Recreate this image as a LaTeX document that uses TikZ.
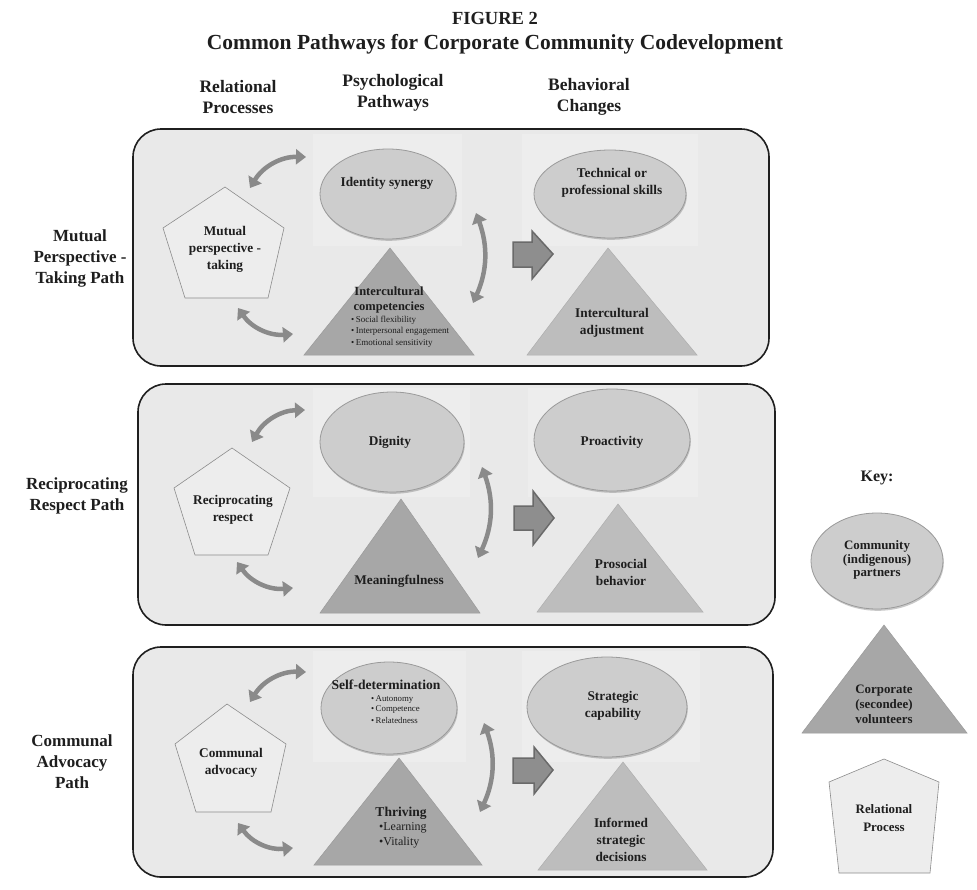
\documentclass[tikz,border=0pt]{standalone}
\usepackage{fontspec}
\setmainfont{Liberation Serif}
\usetikzlibrary{arrows.meta,shadows}
\definecolor{panelfill}{HTML}{E9E9E9}
\definecolor{softfill}{HTML}{EDEDED}
\definecolor{pentfill}{HTML}{EDEDED}
\definecolor{pentline}{HTML}{8C8C8C}
\definecolor{ellfill}{HTML}{CDCDCD}
\definecolor{ellline}{HTML}{9A9A9A}
\definecolor{psyfill}{HTML}{A7A7A7}
\definecolor{behfill}{HTML}{BDBDBD}
\definecolor{arrgray}{HTML}{8A8A8A}
\definecolor{blockfill}{HTML}{8E8E8E}
\definecolor{blockline}{HTML}{6A6A6A}
\definecolor{txt}{HTML}{1E1E1E}
\tikzset{
  panel/.style={draw=black!88, line width=1.6pt, fill=panelfill, rounded corners=28pt},
  soft/.style={fill=softfill},
  pent/.style={draw=pentline, line width=0.6pt, fill=pentfill},
  ell/.style={draw=ellline, line width=0.8pt, fill=ellfill,
    drop shadow={shadow xshift=0.8pt, shadow yshift=-1.8pt, opacity=0.3, fill=black!70}},
  psytri/.style={fill=psyfill, draw=psyfill!92!black, line width=0.5pt},
  behtri/.style={fill=behfill, draw=behfill!92!black, line width=0.5pt},
  dbl/.style={draw=arrgray, line width=4.5pt,
    {Triangle[length=10pt,width=15pt]}-{Triangle[length=10pt,width=15pt]}},
  block/.style={fill=blockfill, draw=blockline, line width=1.5pt, line join=miter},
  lbl/.style={font=\bfseries\fontsize{13.3}{17}\selectfont, align=center, text=txt, inner sep=0pt},
  bul/.style={font=\fontsize{9}{11}\selectfont, anchor=west, text=txt, inner sep=0pt},
  bulB/.style={font=\fontsize{8.8}{10}\selectfont, anchor=west, text=txt, inner sep=0pt},
  bulC/.style={font=\fontsize{12}{15}\selectfont, anchor=west, text=txt, inner sep=0pt},
  side/.style={font=\bfseries\fontsize{17}{21}\selectfont, align=center, text=txt, inner sep=0pt},
  head/.style={font=\bfseries\fontsize{17.5}{21}\selectfont, align=center, text=txt, inner sep=0pt},
  ttl/.style={font=\bfseries\fontsize{21.5}{24}\selectfont, align=center, text=txt, inner sep=0pt},
}
\begin{document}
\begin{tikzpicture}[x=1pt,y=-1pt]
\useasboundingbox (0,0) rectangle (977,889);
\fill[white] (0,0) rectangle (977,889);

% titles
\node[ttl, font=\bfseries\fontsize{18.5}{22}\selectfont] (fig) at (495,18) {FIGURE 2};
\node[ttl] (sub) at (495,44) {Common Pathways for Corporate Community Codevelopment};
\node[head] (h1) at (238,97) {Relational\\Processes};
\node[head] (h2) at (393,93) {Psychological\\Pathways};
\node[head] (h3) at (589,97) {Behavioral\\Changes};

% side labels
\node[side] (s1) at (80,258) {Mutual\\Perspective -\\Taking Path};
\node[side] (s2) at (77,496) {Reciprocating\\Respect Path};
\node[side] (s3) at (72,762) {Communal\\Advocacy\\Path};

% ================= Panel 1 =================
\draw[panel] (133,129) rectangle (769,366);
\fill[soft] (313,134) rectangle (462,246);
\fill[soft] (522,134) rectangle (698,246);
\draw[pent] (225,187) -- (284,228) -- (268,298) -- (185,298) -- (163,228) -- cycle;
\node[lbl] (p1) at (225,249) {Mutual\\perspective -\\taking};
\path[ell] (388,194) ellipse [x radius=68, y radius=45];
\node[lbl] (e1a) at (387,183) {Identity synergy};
\draw[psytri] (390,248) -- (474,355) -- (304,355) -- cycle;
\node[lbl, font=\bfseries\fontsize{12.5}{15}\selectfont] (t1a) at (389,300) {Intercultural\\competencies};
\node[bul] (b1a) at (351,320) {\textbullet\,Social flexibility};
\node[bul] (b1b) at (351,331.5) {\textbullet\,Interpersonal engagement};
\node[bul] (b1c) at (351,343) {\textbullet\,Emotional sensitivity};
\path[ell] (610,194) ellipse [x radius=76, y radius=44];
\node[lbl] (e1b) at (612,183) {Technical or\\professional skills};
\draw[behtri] (608,248) -- (697,355) -- (527,355) -- cycle;
\node[lbl] (t1b) at (612,323) {Intercultural\\adjustment};
\coordinate (a1s) at (250,188); \coordinate (a1e) at (306,157);
\coordinate (a2s) at (238,308); \coordinate (a2e) at (293,334);
\coordinate (v1s) at (476,213); \coordinate (v1e) at (473,303);
\draw[dbl] (a1s) to[bend left=30] (a1e);
\draw[dbl] (a2s) to[bend right=30] (a2e);
\draw[dbl] (v1s) to[bend left=22] (v1e);
\draw[block] (513,242) -- (532,242) -- (532,231) -- (553,254) -- (532,279) -- (532,267) -- (513,267) -- cycle;

% ================= Panel 2 =================
\draw[panel] (138,384) rectangle (775,625);
\fill[soft] (313,388) rectangle (470,497);
\fill[soft] (528,388) rectangle (698,497);
\draw[pent] (232,448) -- (290,488) -- (268,555) -- (195,555) -- (174,488) -- cycle;
\node[lbl] (p2) at (233,510) {Reciprocating\\respect};
\path[ell] (392,442) ellipse [x radius=72, y radius=50];
\node[lbl] (e2a) at (390,442) {Dignity};
\draw[psytri] (401,499) -- (480,613) -- (320,613) -- cycle;
\node[lbl] (t2a) at (399,581) {Meaningfulness};
\path[ell] (612,440) ellipse [x radius=78, y radius=51];
\node[lbl] (e2b) at (612,442) {Proactivity};
\draw[behtri] (618,504) -- (703,612) -- (537,612) -- cycle;
\node[lbl] (t2b) at (621,572) {Prosocial\\behavior};
\coordinate (a3s) at (252,442); \coordinate (a3e) at (305,410);
\coordinate (a4s) at (237,562); \coordinate (a4e) at (293,588);
\coordinate (v2s) at (482,467); \coordinate (v2e) at (478,558);
\draw[dbl] (a3s) to[bend left=30] (a3e);
\draw[dbl] (a4s) to[bend right=30] (a4e);
\draw[dbl] (v2s) to[bend left=22] (v2e);
\draw[block] (514,506) -- (533,506) -- (533,491) -- (554,518) -- (533,545) -- (533,530) -- (514,530) -- cycle;

% ================= Panel 3 =================
\draw[panel] (133,647) rectangle (773,877);
\fill[soft] (313,651) rectangle (466,762);
\fill[soft] (522,651) rectangle (700,762);
\draw[pent] (227,704) -- (286,744) -- (271,812) -- (196,812) -- (175,744) -- cycle;
\node[lbl] (p3) at (231,763) {Communal\\advocacy};
\path[ell] (389,708) ellipse [x radius=68, y radius=46];
\node[lbl, font=\bfseries\fontsize{13.6}{16}\selectfont] (e3a) at (386,685) {Self-determination};
\node[bulB] (c1a) at (371,700) {\textbullet\,Autonomy};
\node[bulB] (c1b) at (371,710) {\textbullet\,Competence};
\node[bulB] (c1c) at (371,720) {\textbullet\,Relatedness};
\draw[psytri] (399,758) -- (482,865) -- (314,865) -- cycle;
\node[lbl, font=\bfseries\fontsize{13.5}{17}\selectfont] (t3a) at (401,813) {Thriving};
\node[bulC] (d1a) at (379,828) {\textbullet Learning};
\node[bulC] (d1b) at (379,843) {\textbullet Vitality};
\path[ell] (607,707) ellipse [x radius=80, y radius=50];
\node[lbl] (e3b) at (613,706) {Strategic\\capability};
\draw[behtri] (623,762) -- (707,870) -- (538,870) -- cycle;
\node[lbl] (t3b) at (621,840) {Informed\\strategic\\decisions};
\coordinate (a5s) at (250,702); \coordinate (a5e) at (306,672);
\coordinate (a6s) at (238,823); \coordinate (a6e) at (293,848);
\coordinate (v3s) at (484,723); \coordinate (v3e) at (480,812);
\draw[dbl] (a5s) to[bend left=30] (a5e);
\draw[dbl] (a6s) to[bend right=30] (a6e);
\draw[dbl] (v3s) to[bend left=22] (v3e);
\draw[block] (513,758) -- (534,758) -- (534,747) -- (553,770) -- (534,794) -- (534,783) -- (513,783) -- cycle;

% ================= Key =================
\node[side, font=\bfseries\fontsize{16}{20}\selectfont] (key) at (877,478) {Key:};
\path[ell] (877,561) ellipse [x radius=66, y radius=48];
\node[lbl, font=\bfseries\fontsize{12.9}{13.5}\selectfont] (k1) at (877,560) {Community\\(indigenous)\\partners};
\draw[psytri] (884,625) -- (967,733) -- (802,733) -- cycle;
\node[lbl, font=\bfseries\fontsize{12.9}{15}\selectfont] (k2) at (884,704) {Corporate\\(secondee)\\volunteers};
\draw[pent] (884,759) -- (939,782) -- (930,873) -- (839,873) -- (829,782) -- cycle;
\node[lbl, font=\bfseries\fontsize{12.9}{18}\selectfont] (k3) at (884,818) {Relational\\Process};
\end{tikzpicture}
\end{document}
